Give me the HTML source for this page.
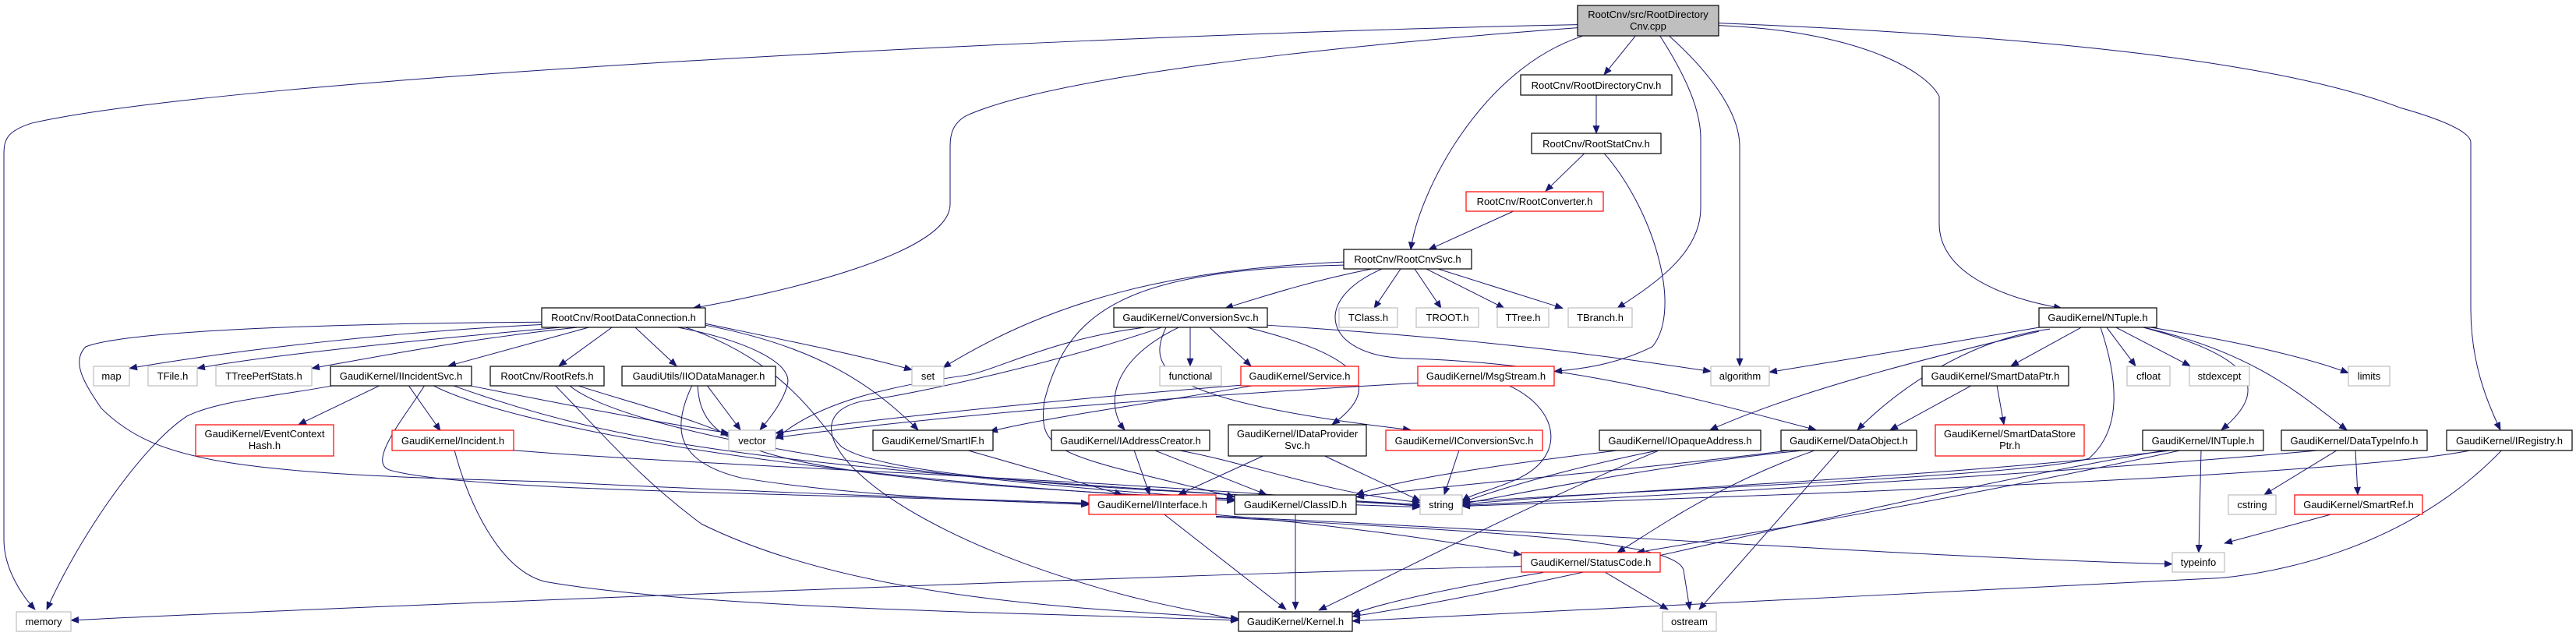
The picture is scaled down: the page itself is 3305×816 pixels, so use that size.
<!DOCTYPE html>
<html><head><meta charset="utf-8">
<style>
html,body{margin:0;padding:0;background:#fff;}
svg{display:block;}
text{font-family:"Liberation Sans",Arial,sans-serif;font-size:13px;fill:#000;}
</style></head>
<body>
<svg width="3305" height="816" viewBox="0 0 3305 816" xmlns="http://www.w3.org/2000/svg">
<defs>
<marker id="a" markerWidth="11" markerHeight="9" refX="10" refY="4.5" orient="auto" markerUnits="userSpaceOnUse"><path d="M0,0 L11,4.5 L0,9z" fill="#191970"/></marker>
</defs>
<g transform="scale(1,0.9886)" fill="none" stroke="#191970" stroke-width="1" marker-end="url(#a)">
<!-- cpp -->
<path d="M2024,32 C1400,45 300,100 40,160 C10,170 5,180 5,200 L5,700 C5,740 30,775 45,791"/>
<path d="M2024,36 C1700,60 1350,100 1240,150 C1222,160 1219,175 1219,190 L1219,265 C1219,330 1000,380 889,400"/>
<path d="M2030,47 C1900,90 1820,250 1810,324"/>
<path d="M2098,47 L2058,97"/>
<path d="M2130,47 C2170,110 2182,150 2182,180 L2182,270 C2182,330 2120,370 2075,400"/>
<path d="M2142,47 C2200,100 2232,150 2232,190 L2232,475"/>
<path d="M2205,33 C2380,40 2470,90 2488,125 L2488,290 C2488,350 2560,385 2645,400"/>
<path d="M2205,30 C2700,50 2950,90 3080,140 C3150,160 3170,175 3170,185 L3170,400 C3170,470 3190,520 3208,558"/>
<path d="M2048,123 L2048,173"/>
<path d="M2033,199 L1983,248"/>
<path d="M2058,199 C2120,270 2160,400 2120,450 C2080,470 2040,478 1994,482"/>
<path d="M1942,274 L1833,324"/>
<!-- RootCnvSvc -->
<path d="M1797,349 L1763,400"/>
<path d="M1815,349 L1849,400"/>
<path d="M1830,349 L1930,400"/>
<path d="M1845,349 L2005,400"/>
<path d="M1724,340 C1500,350 1350,390 1210,477"/>
<path d="M1760,349 C1680,365 1620,385 1572,400"/>
<path d="M1773,349 C1680,390 1700,460 1800,465 C2000,470 2150,510 2330,558"/>
<path d="M1724,344 C1450,350 1370,400 1340,520 C1330,590 1360,590 1584,645"/>
<!-- ConversionSvc -->
<path d="M1527,425 L1527,475"/>
<path d="M1552,425 L1605,475"/>
<path d="M1512,425 C1420,470 1420,530 1443,558"/>
<path d="M1600,425 C1740,460 1780,500 1709,551"/>
<path d="M1496,425 C1470,480 1490,520 1810,558"/>
<path d="M1626,422 C1900,440 2050,460 2195,482"/>
<path d="M1468,425 C1350,440 1280,480 1240,487 C1150,500 1050,520 995,570"/>
<path d="M1490,425 C1360,470 1180,510 1110,520 C1000,540 1100,670 1400,760 C1480,785 1550,795 1589,805"/>
<path d="M1592,500 C1400,515 1150,540 995,562"/>
<path d="M1610,500 C1500,520 1350,540 1270,560"/>
<path d="M1620,592 L1512,642"/>
<path d="M1700,592 L1822,650"/>
<path d="M1455,584 L1475,642"/>
<path d="M1480,584 L1625,642"/>
<path d="M1510,584 C1600,600 1700,640 1822,652"/>
<path d="M1240,584 L1440,642"/>
<path d="M1493,667 L1650,791"/>
<path d="M1560,668 C1700,680 1850,700 1952,720"/>
<path d="M1560,670 C2000,690 2500,725 2787,732"/>
<path d="M1560,671 C1900,690 2150,700 2160,740 L2168,791"/>
<path d="M1662,667 L1662,791"/>
<path d="M1819,497 C1500,515 1200,540 995,568"/>
<path d="M1935,500 C2000,530 2010,590 1950,620 C1920,635 1890,640 1876,650"/>
<path d="M1872,584 L1853,642"/>
<path d="M2130,584 C2050,600 1950,625 1876,652"/>
<path d="M2080,584 C1950,600 1800,620 1740,642"/>
<path d="M2130,584 C1950,660 1800,740 1692,792"/>
<path d="M2320,584 C2150,600 1950,640 1876,654"/>
<path d="M2300,584 C2100,610 1850,630 1740,645"/>
<path d="M2330,584 C2200,630 2120,690 2075,717"/>
<path d="M2360,584 L2180,791"/>
<path d="M1980,743 C1880,760 1780,780 1735,797"/>
<path d="M2060,743 L2140,791"/>
<path d="M1952,735 C1500,745 400,790 91,805"/>
<!-- NTuple -->
<path d="M2670,425 L2580,475"/>
<path d="M2703,425 L2740,475"/>
<path d="M2715,425 L2810,475"/>
<path d="M2760,425 C2850,440 2950,460 3013,484"/>
<path d="M2750,425 C2880,460 2920,500 2850,558"/>
<path d="M2755,426 C2900,460 2960,520 3011,558"/>
<path d="M2616,425 C2500,445 2350,470 2270,483"/>
<path d="M2616,430 C2450,470 2300,510 2194,558"/>
<path d="M2630,427 C2530,440 2440,500 2383,558"/>
<path d="M2695,425 C2720,500 2720,560 2680,595 C2600,620 2000,640 1876,652"/>
<path d="M2562,500 L2571,551"/>
<path d="M2530,500 L2425,558"/>
<path d="M2824,584 L2821,717"/>
<path d="M2790,584 C2500,620 2000,640 1876,655"/>
<path d="M2780,584 C2400,650 2000,760 1735,800"/>
<path d="M2800,584 C2500,650 2200,700 2100,717"/>
<path d="M2999,584 L2905,642"/>
<path d="M3022,584 L3025,642"/>
<path d="M2980,584 C2700,610 2200,640 1876,656"/>
<path d="M2993,667 L2854,705"/>
<path d="M3172,584 C3000,620 2200,645 1876,657"/>
<path d="M3210,584 C3100,700 2950,740 2850,750 C2500,770 2000,790 1735,806"/>
<!-- RootDataConnection -->
<path d="M720,420 C500,430 300,455 166,478"/>
<path d="M730,424 C550,440 350,460 253,478"/>
<path d="M740,425 C600,440 500,460 400,478"/>
<path d="M755,425 L575,475"/>
<path d="M785,425 L717,475"/>
<path d="M815,425 L868,475"/>
<path d="M905,420 C1000,440 1100,460 1170,480"/>
<path d="M870,425 C950,440 1020,470 1010,500 C1005,520 990,540 975,558"/>
<path d="M905,422 C1050,450 1120,500 1178,558"/>
<path d="M880,425 C1010,470 1050,550 1080,580 C1150,630 1600,640 1822,655"/>
<path d="M695,418 C400,420 160,430 110,450 C90,470 110,500 130,530 C200,600 300,615 700,625 C1000,640 1300,650 1397,653"/>
<!-- IIncidentSvc -->
<path d="M430,500 C350,515 280,520 240,540 C180,580 100,700 60,791"/>
<path d="M488,500 L383,551"/>
<path d="M524,500 L565,559"/>
<path d="M600,500 C700,520 850,550 935,562"/>
<path d="M545,500 C520,540 470,600 500,610 C600,640 1100,640 1397,655"/>
<path d="M580,500 C800,580 1000,610 1822,656"/>
<path d="M555,500 C650,550 1000,620 1584,650"/>
<path d="M655,584 C900,605 1400,620 1822,657"/>
<path d="M583,584 C600,650 640,740 700,755 C900,790 1300,795 1589,805"/>
<path d="M740,500 C800,520 880,540 935,565"/>
<path d="M730,500 C800,560 1200,640 1822,658"/>
<path d="M712,500 C780,570 820,620 900,680 C1100,780 1400,790 1589,803"/>
<path d="M907,500 L950,558"/>
<path d="M888,500 C860,560 870,600 950,620 C1100,645 1300,652 1397,654"/>
<path d="M895,500 C900,580 950,620 1584,648"/>
</g>
<g stroke-width="1.2" fill="#fff">
<rect x="2024" y="7" width="181" height="39" fill="#bfbfbf" stroke="#000"/>
<rect x="1951" y="96" width="194" height="26" stroke="#000"/>
<rect x="1965" y="171" width="166" height="26" stroke="#000"/>
<rect x="1881" y="246" width="176" height="25" stroke="red"/>
<rect x="1724" y="320" width="164" height="25" stroke="#000"/>
<rect x="1718" y="395" width="75" height="25" stroke="#bfbfbf"/>
<rect x="1817" y="395" width="80" height="25" stroke="#bfbfbf"/>
<rect x="1921" y="395" width="66" height="25" stroke="#bfbfbf"/>
<rect x="2012" y="395" width="82" height="25" stroke="#bfbfbf"/>
<rect x="695" y="395" width="210" height="25" stroke="#000"/>
<rect x="1429" y="395" width="197" height="25" stroke="#000"/>
<rect x="2616" y="395" width="151" height="25" stroke="#000"/>
<rect x="120" y="470" width="46" height="25" stroke="#bfbfbf"/>
<rect x="190" y="470" width="63" height="25" stroke="#bfbfbf"/>
<rect x="277" y="470" width="123" height="25" stroke="#bfbfbf"/>
<rect x="424" y="470" width="181" height="25" stroke="#000"/>
<rect x="629" y="470" width="146" height="25" stroke="#000"/>
<rect x="798" y="470" width="197" height="25" stroke="#000"/>
<rect x="1170" y="470" width="41" height="25" stroke="#bfbfbf"/>
<rect x="1488" y="470" width="79" height="25" stroke="#bfbfbf"/>
<rect x="1592" y="470" width="151" height="25" stroke="red"/>
<rect x="1819" y="470" width="175" height="25" stroke="red"/>
<rect x="2195" y="470" width="75" height="25" stroke="#bfbfbf"/>
<rect x="2466" y="470" width="188" height="25" stroke="#000"/>
<rect x="2729" y="470" width="55" height="25" stroke="#bfbfbf"/>
<rect x="2809" y="470" width="77" height="25" stroke="#bfbfbf"/>
<rect x="3013" y="470" width="53" height="25" stroke="#bfbfbf"/>
<rect x="251" y="545" width="177" height="40" stroke="red"/>
<rect x="503" y="552" width="156" height="26" stroke="red"/>
<rect x="935" y="552" width="60" height="26" stroke="#bfbfbf"/>
<rect x="1120" y="552" width="154" height="26" stroke="#000"/>
<rect x="1349" y="552" width="203" height="26" stroke="#000"/>
<rect x="1576" y="545" width="177" height="40" stroke="#000"/>
<rect x="1778" y="552" width="201" height="26" stroke="red"/>
<rect x="2052" y="552" width="207" height="26" stroke="#000"/>
<rect x="2285" y="552" width="174" height="26" stroke="#000"/>
<rect x="2483" y="545" width="191" height="40" stroke="red"/>
<rect x="2749" y="552" width="155" height="26" stroke="#000"/>
<rect x="2927" y="552" width="187" height="26" stroke="#000"/>
<rect x="3139" y="552" width="161" height="26" stroke="#000"/>
<rect x="1397" y="635" width="163" height="25" stroke="red"/>
<rect x="1584" y="635" width="156" height="25" stroke="#000"/>
<rect x="1822" y="635" width="54" height="25" stroke="#bfbfbf"/>
<rect x="2859" y="635" width="61" height="25" stroke="#bfbfbf"/>
<rect x="2944" y="635" width="164" height="25" stroke="red"/>
<rect x="1952" y="709" width="178" height="25" stroke="red"/>
<rect x="2787" y="709" width="67" height="25" stroke="#bfbfbf"/>
<rect x="21" y="785" width="70" height="25" stroke="#bfbfbf"/>
<rect x="1589" y="785" width="146" height="25" stroke="#000"/>
<rect x="2133" y="785" width="69" height="25" stroke="#bfbfbf"/>
</g>
<g text-anchor="middle">
<text x="2114.5" y="23">RootCnv/src/RootDirectory</text>
<text x="2114.5" y="38">Cnv.cpp</text>
<text x="2048" y="114">RootCnv/RootDirectoryCnv.h</text>
<text x="2048" y="189">RootCnv/RootStatCnv.h</text>
<text x="1969" y="263">RootCnv/RootConverter.h</text>
<text x="1806" y="337">RootCnv/RootCnvSvc.h</text>
<text x="1755.5" y="412">TClass.h</text>
<text x="1857" y="412">TROOT.h</text>
<text x="1954" y="412">TTree.h</text>
<text x="2053" y="412">TBranch.h</text>
<text x="800" y="412">RootCnv/RootDataConnection.h</text>
<text x="1527.5" y="412">GaudiKernel/ConversionSvc.h</text>
<text x="2691.5" y="412">GaudiKernel/NTuple.h</text>
<text x="143" y="487">map</text>
<text x="221.5" y="487">TFile.h</text>
<text x="338.5" y="487">TTreePerfStats.h</text>
<text x="514.5" y="487">GaudiKernel/IIncidentSvc.h</text>
<text x="702" y="487">RootCnv/RootRefs.h</text>
<text x="896.5" y="487">GaudiUtils/IIODataManager.h</text>
<text x="1190.5" y="487">set</text>
<text x="1527.5" y="487">functional</text>
<text x="1667.5" y="487">GaudiKernel/Service.h</text>
<text x="1906.5" y="487">GaudiKernel/MsgStream.h</text>
<text x="2232.5" y="487">algorithm</text>
<text x="2560" y="487">GaudiKernel/SmartDataPtr.h</text>
<text x="2756.5" y="487">cfloat</text>
<text x="2847.5" y="487">stdexcept</text>
<text x="3039.5" y="487">limits</text>
<text x="339.5" y="561">GaudiKernel/EventContext</text>
<text x="339.5" y="576">Hash.h</text>
<text x="581" y="570">GaudiKernel/Incident.h</text>
<text x="965" y="570">vector</text>
<text x="1197" y="570">GaudiKernel/SmartIF.h</text>
<text x="1450.5" y="570">GaudiKernel/IAddressCreator.h</text>
<text x="1664.5" y="561">GaudiKernel/IDataProvider</text>
<text x="1664.5" y="576">Svc.h</text>
<text x="1878.5" y="570">GaudiKernel/IConversionSvc.h</text>
<text x="2155.5" y="570">GaudiKernel/IOpaqueAddress.h</text>
<text x="2372" y="570">GaudiKernel/DataObject.h</text>
<text x="2578.5" y="561">GaudiKernel/SmartDataStore</text>
<text x="2578.5" y="576">Ptr.h</text>
<text x="2826.5" y="570">GaudiKernel/INTuple.h</text>
<text x="3020.5" y="570">GaudiKernel/DataTypeInfo.h</text>
<text x="3219.5" y="570">GaudiKernel/IRegistry.h</text>
<text x="1478.5" y="652">GaudiKernel/IInterface.h</text>
<text x="1662" y="652">GaudiKernel/ClassID.h</text>
<text x="1849" y="652">string</text>
<text x="2889.5" y="652">cstring</text>
<text x="3026" y="652">GaudiKernel/SmartRef.h</text>
<text x="2041" y="726">GaudiKernel/StatusCode.h</text>
<text x="2820.5" y="726">typeinfo</text>
<text x="56" y="802">memory</text>
<text x="1662" y="802">GaudiKernel/Kernel.h</text>
<text x="2167.5" y="802">ostream</text>
</g>
</svg>
</body></html>
